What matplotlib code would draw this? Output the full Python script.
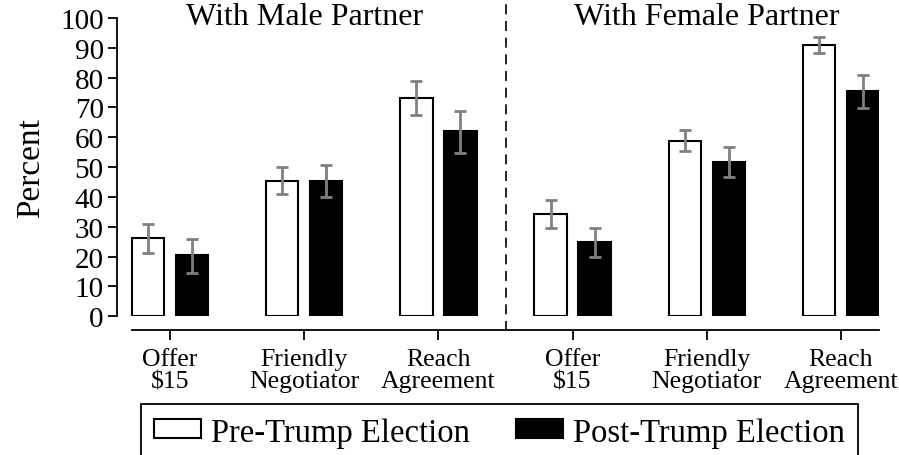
import matplotlib
matplotlib.use("Agg")
import matplotlib.pyplot as plt
import numpy as np
from matplotlib.patches import Patch

plt.rcParams['font.family'] = ['Liberation Serif', 'DejaVu Serif']

# data
categories = ["Offer\n$15", "Friendly\nNegotiator", "Reach\nAgreement",
              "Offer\n$15", "Friendly\nNegotiator", "Reach\nAgreement"]
panels = ["With Male Partner", "With Female Partner"]
pre = [26.1, 45.5, 73.2, 34.3, 58.9, 90.9]
pre_lo = [21.1, 41.0, 67.4, 29.5, 55.5, 88.2]
pre_hi = [30.8, 49.9, 79.0, 39.1, 62.4, 93.7]
post = [20.4, 45.4, 62.0, 24.9, 51.8, 75.4]
post_lo = [14.6, 39.9, 54.8, 19.9, 46.8, 69.9]
post_hi = [26.0, 50.8, 68.8, 29.7, 56.6, 80.8]
yticks = list(range(0, 101, 10))

fig = plt.figure(figsize=(8.99, 4.56), dpi=100)
ax = fig.add_axes([117/899, 1 - 317.3/456, (879 - 117)/899, (317.3 - 19)/456])

x = np.arange(len(categories))
off, w = 0.164, 0.24
pre = np.array(pre); post = np.array(post)
err_pre = [pre - np.array(pre_lo), np.array(pre_hi) - pre]
err_post = [post - np.array(post_lo), np.array(post_hi) - post]

ax.bar(x - off, pre, w, color='white', edgecolor='black', linewidth=1.5, zorder=2)
ax.bar(x + off, post, w, color='black', edgecolor='black', linewidth=1.5, zorder=2)
ax.errorbar(x - off, pre, yerr=err_pre, fmt='none', ecolor='#808080',
            elinewidth=2, capsize=4, capthick=2, zorder=3)
ax.errorbar(x + off, post, yerr=err_post, fmt='none', ecolor='#808080',
            elinewidth=2, capsize=4, capthick=2, zorder=3)

left = x[0] - off - w / 2
right = x[-1] + off + w / 2
ax.set_xlim(left - 15/134, right)
ax.set_ylim(0, 100)

# spines, Stata style
for s in ['top', 'right']:
    ax.spines[s].set_visible(False)
ax.spines['left'].set_bounds(0, 100)
ax.spines['left'].set_linewidth(1.3)
ax.spines['bottom'].set_position(('outward', 10))
ax.spines['bottom'].set_bounds(left, right)
ax.spines['bottom'].set_linewidth(1.3)

ax.set_yticks(yticks)
ax.tick_params(axis='y', length=6.5, width=1.3, pad=3, labelsize=21)
ax.set_xticks(x)
ax.set_xticklabels(categories, fontsize=18.5, linespacing=1.0)
ax.tick_params(axis='x', length=7, width=1.3, pad=6)
ax.set_ylabel("Percent", fontsize=24, labelpad=10)

# divider and panel titles
ax.axvline(2.5, ymin=-0.049, ymax=1.065, color='black', lw=1.2,
           ls=(0, (6, 4)), clip_on=False)
ax.text(1, 100.6, panels[0], ha='center', va='center', fontsize=23, clip_on=False)
ax.text(4, 100.6, panels[1], ha='center', va='center', fontsize=23, clip_on=False)

handles = [Patch(facecolor='white', edgecolor='black', linewidth=1.5),
           Patch(facecolor='black', edgecolor='black', linewidth=1.5)]
leg = fig.legend(handles, ["Pre-Trump Election", "Post-Trump Election"],
                 loc='upper left', bbox_to_anchor=(141/899, 1 - 405/456),
                 ncol=2, fontsize=23.5, fancybox=False, edgecolor='black',
                 handlelength=1.45, handleheight=0.52, handletextpad=0.3,
                 columnspacing=1.4, borderpad=0.4, borderaxespad=0,
                 framealpha=1)
leg.get_frame().set_linewidth(1.3)

fig.savefig("out.png", dpi=100)
